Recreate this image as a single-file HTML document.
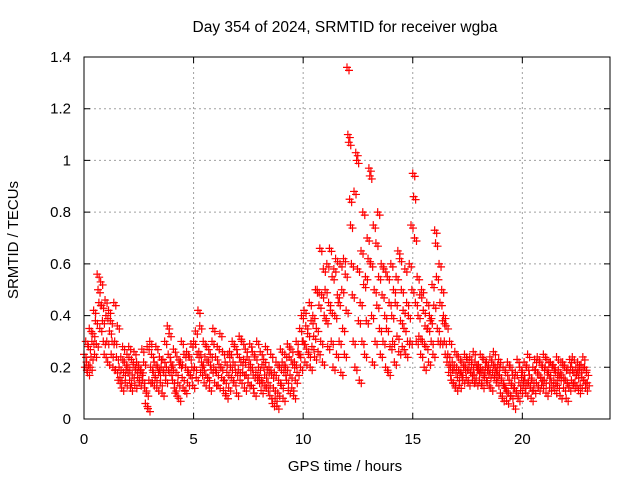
<!DOCTYPE html>
<html><head><meta charset="utf-8"><style>
html,body{margin:0;padding:0;background:#fff}
svg{display:block;font-family:"Liberation Sans",sans-serif}
</style></head><body>
<svg id="chart" width="640" height="480" viewBox="0 0 640 480">
<text x="345" y="32" font-size="15.5" text-anchor="middle">Day 354 of 2024, SRMTID for receiver wgba</text>
<text x="345" y="471" font-size="15" text-anchor="middle">GPS time / hours</text>
<text transform="translate(18,240) rotate(-90)" font-size="15" text-anchor="middle">SRMTID / TECUs</text>
<g id="grid"></g>
<g id="ticks"></g>
<g id="points"></g>
<rect x="84" y="57" width="526" height="362" fill="none" stroke="#000" stroke-width="1"/>
</svg>
<script>
const xTicks = [0, 5, 10, 15, 20];
const xTickLabels = ["0", "5", "10", "15", "20"];
const yTicks = [0, 0.2, 0.4, 0.6, 0.8, 1.0, 1.2, 1.4];
const yTickLabels = ["0", "0.2", "0.4", "0.6", "0.8", "1", "1.2", "1.4"];
const binHours = 0.2;
const srmtid = [
[.25,.2,.3,.22,.18],[.28,.35,.2,.24,.3],[.33,.42,.25,.38,.29],[.56,.5,.45,.35,.53],[.44,.38,.3,.25,.46],
[.4,.3,.22,.42,.34],[.38,.25,.3,.2,.45],[.3,.19,.24,.36,.15],[.2,.16,.24,.12,.28],[.18,.22,.14,.19,.25],
[.2,.28,.15,.12,.23],[.17,.21,.26,.13,.19],[.22,.16,.2,.14,.18],[.19,.27,.15,.22,.12],[.06,.1,.28,.04,.15],
[.3,.2,.25,.14,.18],[.22,.16,.28,.12,.2],[.18,.24,.14,.2,.1],[.23,.18,.3,.15,.2],[.36,.25,.33,.18,.22],
[.2,.15,.27,.12,.1],[.18,.24,.14,.08,.21],[.22,.3,.16,.12,.25],[.11,.2,.26,.14,.18],[.24,.17,.29,.2,.13],
[.3,.2,.34,.16,.25],[.42,.26,.36,.18,.22],[.2,.3,.14,.24,.17],[.28,.16,.22,.12,.25],[.19,.3,.35,.2,.14],
[.24,.18,.28,.13,.21],[.33,.2,.16,.26,.11],[.15,.22,.09,.18,.25],[.12,.26,.2,.16,.3],[.22,.14,.28,.18,.1],
[.25,.19,.32,.15,.22],[.3,.18,.23,.12,.27],[.17,.24,.14,.2,.29],[.21,.13,.26,.17,.1],[.24,.18,.3,.15,.2],
[.16,.26,.11,.21,.14],[.23,.17,.28,.12,.19],[.14,.2,.09,.25,.17],[.06,.12,.18,.08,.22],[.05,.1,.15,.2,.27],
[.13,.22,.08,.18,.25],[.2,.15,.29,.11,.24],[.17,.27,.12,.21,.09],[.22,.15,.3,.18,.26],[.25,.35,.2,.4,.3],
[.3,.42,.22,.36,.27],[.33,.25,.45,.2,.38],[.28,.4,.32,.24,.5],[.35,.5,.26,.44,.66],[.3,.48,.22,.58,.4],
[.5,.38,.6,.28,.45],[.66,.42,.3,.55,.2],[.58,.4,.62,.25,.48],[.45,.3,.6,.18,.5],[.35,.62,.25,.56,.42],
[1.36,1.1,1.07,.85,.75],[.6,.48,.3,.88,.2],[1.03,1.0,.58,.38,.15],[.45,.65,.3,.8,.52],[.25,.55,.38,.7,.62],
[.97,.94,.6,.4,.22],[.75,.5,.3,.68,.44],[.8,.55,.35,.25,.6],[.48,.3,.58,.4,.2],[.35,.55,.18,.45,.28],
[.6,.4,.3,.5,.22],[.45,.55,.32,.65,.26],[.62,.38,.5,.28,.42],[.35,.58,.25,.45,.3],[.4,.6,.3,.75,.5],
[.95,.86,.7,.45,.3],[.55,.4,.32,.48,.25],[.5,.3,.42,.2,.36],[.28,.45,.35,.22,.4],[.38,.3,.52,.25,.44],
[.73,.68,.55,.35,.3],[.6,.45,.3,.5,.38],[.4,.3,.25,.36,.22],[.25,.18,.3,.2,.15],[.22,.14,.19,.26,.12],
[.2,.16,.24,.13,.18],[.18,.22,.15,.2,.25],[.2,.16,.23,.14,.19],[.24,.18,.21,.15,.26],[.17,.22,.14,.2,.19],
[.21,.15,.25,.18,.13],[.19,.23,.16,.2,.22],[.14,.2,.17,.24,.12],[.22,.18,.26,.16,.2],[.18,.14,.21,.23,.17],
[.1,.15,.08,.2,.13],[.12,.18,.07,.22,.1],[.15,.2,.09,.13,.17],[.05,.12,.18,.1,.23],[.08,.14,.2,.11,.16],
[.18,.13,.22,.15,.1],[.2,.25,.14,.17,.12],[.08,.15,.2,.11,.23],[.19,.14,.24,.12,.17],[.22,.16,.13,.2,.25],
[.15,.2,.1,.23,.17],[.18,.12,.22,.14,.2],[.21,.15,.11,.18,.24],[.13,.19,.16,.09,.22],[.17,.22,.12,.2,.15],
[.08,.14,.19,.12,.23],[.2,.15,.24,.13,.18],[.14,.2,.17,.22,.11],[.19,.13,.21,.16,.24],[.15,.2,.12,.18,.14]
];
const NS = "http://www.w3.org/2000/svg";
const X0 = 84, X1 = 610, Y0 = 419, Y1 = 57, XMAX = 24, YMAX = 1.4;
function xs(v){ return X0 + v / XMAX * (X1 - X0); }
function ys(v){ return Y0 - v / YMAX * (Y0 - Y1); }
const grid = document.getElementById('grid');
const ticks = document.getElementById('ticks');
const pts = document.getElementById('points');
function mk(tag, attrs, parent){
  const e = document.createElementNS(NS, tag);
  for (const k in attrs) e.setAttribute(k, attrs[k]);
  parent.appendChild(e); return e;
}
xTicks.forEach((t, i) => {
  const x = xs(t);
  if (t > 0) {
    const g = mk('line', {x1:x, x2:x, y1:Y1, y2:Y0, stroke:'#a0a0a0', 'stroke-dasharray':'2,3'}, grid);
    
    
  }
  const tk = mk('path', {d:`M${x},${Y0}v-6M${x},${Y1}v6`, stroke:'#000'}, ticks);
  
  
  const lb = mk('text', {x:x, y:444, 'font-size':15, 'text-anchor':'middle'}, ticks);
  lb.textContent = xTickLabels[i];
  
  
});
yTicks.forEach((t, i) => {
  const y = ys(t);
  if (t > 0 && t < YMAX) {
    const g = mk('line', {x1:X0, x2:X1, y1:y, y2:y, stroke:'#a0a0a0', 'stroke-dasharray':'2,3'}, grid);
    
    
  }
  const tk = mk('path', {d:`M${X0},${y}h6M${X1},${y}h-6`, stroke:'#000'}, ticks);
  
  
  const lb = mk('text', {x:71, y:y + 5, 'font-size':15, 'text-anchor':'end'}, ticks);
  lb.textContent = yTickLabels[i];
  
  
});
srmtid.forEach((bin, b) => {
  bin.forEach((v, k) => {
    const t = b * binHours + k * binHours / bin.length;
    const x = xs(t), y = ys(v);
    const p = mk('path', {d:`M${x-4},${y}h8M${x},${y-4}v8M${x-4+2},${y+3}h8M${x+2},${y-1}v8`, stroke:'#ff0000', 'stroke-width':1.2}, pts);
    
    
  });
});
</script>
</body></html>
